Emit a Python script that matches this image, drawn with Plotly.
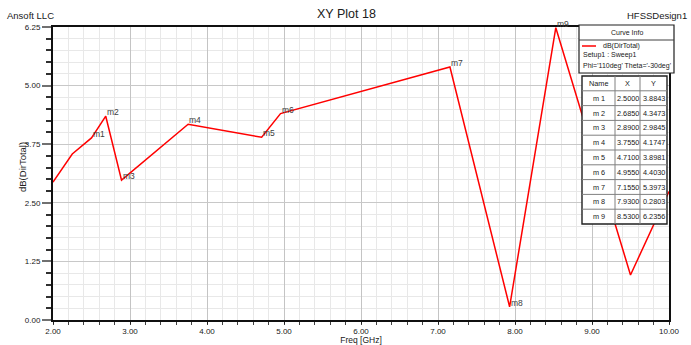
import plotly.graph_objects as go

# Marker table (name, frequency in GHz, gain in dB)
marker_names = ["m1", "m2", "m3", "m4", "m5", "m6", "m7", "m8", "m9"]
marker_freq = [2.5000, 2.6850, 2.8900, 3.7550, 4.7100, 4.9550, 7.1550, 7.9300, 8.5300]
marker_db = [3.8843, 4.3473, 2.9845, 4.1747, 3.8981, 4.4030, 5.3973, 0.2803, 6.2356]

# Remaining sweep points of dB(DirTotal)
sweep_freq = [2.00, 2.25, 9.50, 10.00]
sweep_db = [2.94, 3.54, 0.96, 2.74]

x_ticks = [2.0, 3.0, 4.0, 5.0, 6.0, 7.0, 8.0, 9.0, 10.0]
y_ticks = [0.00, 1.25, 2.50, 3.75, 5.00, 6.25]

pts = sorted(zip(sweep_freq + marker_freq, sweep_db + marker_db))
curve_x = [p[0] for p in pts]
curve_y = [p[1] for p in pts]

FONT = "Liberation Sans Narrow, Arial Narrow, Liberation Sans, Arial, sans-serif"
W, H = 691, 345
L, R, T, B = 53, 669, 27, 320


def px(x):
    return (x - L) / (R - L)


def py(y):
    return (B - y) / (B - T)


fig = go.Figure()
fig.add_trace(go.Scatter(
    x=curve_x, y=curve_y, mode="lines",
    line=dict(color="#ff0000", width=1.5),
    hoverinfo="skip", showlegend=False,
))

annotations = []
shapes = []

# Marker labels beside each marker point
for name, fx, fy in zip(marker_names, marker_freq, marker_db):
    annotations.append(dict(
        x=fx, y=fy, xref="x", yref="y", text=name, showarrow=False,
        xanchor="left", yanchor="bottom", xshift=-1, yshift=-3,
        font=dict(family=FONT, size=8.5, color="#404040"),
    ))

# Header texts
annotations += [
    dict(x=px(5), y=py(15), xref="paper", yref="paper", text="Ansoft LLC",
         showarrow=False, xanchor="left", yanchor="middle",
         font=dict(family=FONT, size=9.5, color="#202020")),
    dict(x=px(689), y=py(15), xref="paper", yref="paper", text="HFSSDesign1",
         showarrow=False, xanchor="right", yanchor="middle",
         font=dict(family=FONT, size=9.5, color="#202020")),
    dict(x=px(346), y=py(14), xref="paper", yref="paper", text="XY Plot 18",
         showarrow=False, xanchor="center", yanchor="middle",
         font=dict(family=FONT, size=12.5, color="#202020")),
]

# Curve Info box
box_l, box_r, box_t, box_b = 579, 674, 25, 73
shapes.append(dict(type="rect", xref="paper", yref="paper",
                   x0=px(box_l), x1=px(box_r), y0=py(box_b), y1=py(box_t),
                   fillcolor="white", line=dict(color="#202020", width=1.2),
                   layer="above"))
shapes.append(dict(type="line", xref="paper", yref="paper",
                   x0=px(box_l), x1=px(box_r), y0=py(40), y1=py(40),
                   line=dict(color="#404040", width=1), layer="above"))
shapes.append(dict(type="line", xref="paper", yref="paper",
                   x0=px(582), x1=px(596), y0=py(46), y1=py(46),
                   line=dict(color="#ff0000", width=1.5), layer="above"))
info_font = dict(family=FONT, size=7, color="#202020")
annotations += [
    dict(x=px((box_l + box_r) / 2), y=py(32.5), xref="paper", yref="paper",
         text="Curve Info", showarrow=False, xanchor="center", yanchor="middle",
         font=info_font),
    dict(x=px(601), y=py(46), xref="paper", yref="paper", text="dB(DirTotal)",
         showarrow=False, xanchor="left", yanchor="middle", font=info_font),
    dict(x=px(581), y=py(55), xref="paper", yref="paper", text="Setup1 : Sweep1",
         showarrow=False, xanchor="left", yanchor="middle", font=info_font),
    dict(x=px(581), y=py(66), xref="paper", yref="paper",
         text="Phi='110deg' Theta='-30deg'",
         showarrow=False, xanchor="left", yanchor="middle", font=info_font),
]

# Marker table
tab_l, tab_r, tab_t = 582, 667, 76
row_h = 14.8
cols = [582, 615, 640, 667]
n_rows = len(marker_names) + 1
tab_b = tab_t + row_h * n_rows
shapes.append(dict(type="rect", xref="paper", yref="paper",
                   x0=px(tab_l), x1=px(tab_r), y0=py(tab_b), y1=py(tab_t),
                   fillcolor="white", line=dict(color="#202020", width=1.4),
                   layer="above"))
for cx in cols[1:-1]:
    shapes.append(dict(type="line", xref="paper", yref="paper",
                       x0=px(cx), x1=px(cx), y0=py(tab_b), y1=py(tab_t),
                       line=dict(color="#808080", width=1), layer="above"))
for i in range(1, n_rows):
    ry = tab_t + row_h * i
    shapes.append(dict(type="line", xref="paper", yref="paper",
                       x0=px(tab_l), x1=px(tab_r), y0=py(ry), y1=py(ry),
                       line=dict(color="#808080", width=1), layer="above"))

rows = [["Name", "X", "Y"]] + [
    [n.replace("m", "m "), f"{fx:.4f}", f"{fy:.4f}"]
    for n, fx, fy in zip(marker_names, marker_freq, marker_db)
]
for i, row in enumerate(rows):
    cy = tab_t + row_h * (i + 0.5)
    for j, txt in enumerate(row):
        cx = (cols[j] + cols[j + 1]) / 2
        annotations.append(dict(
            x=px(cx), y=py(cy), xref="paper", yref="paper", text=txt,
            showarrow=False, xanchor="center", yanchor="middle",
            font=dict(family=FONT, size=7.3, color="#202020"),
        ))

# Vertical axis title
annotations.append(dict(
    x=px(22), y=py(167), xref="paper", yref="paper", text="dB(DirTotal)",
    showarrow=False, xanchor="center", yanchor="middle", textangle=-90,
    font=dict(family=FONT, size=9.5, color="#202020"),
))

fig.update_layout(
    width=W, height=H,
    margin=dict(l=L, r=W - R, t=T, b=H - B, pad=0, autoexpand=False),
    paper_bgcolor="white", plot_bgcolor="white",
    showlegend=False,
    font=dict(family=FONT, size=8, color="#202020"),
    annotations=annotations, shapes=shapes,
    xaxis=dict(
        range=[2, 10], tickvals=x_ticks, ticktext=[f"{v:.2f}" for v in x_ticks],
        ticks="outside", ticklen=2, tickcolor="#202020", tickwidth=1,
        showgrid=True, gridcolor="#c4c4c4", gridwidth=1,
        minor=dict(dtick=0.2, ticks="outside", ticklen=3, tickcolor="#404040",
                   showgrid=True, gridcolor="#e8e8e8", gridwidth=1),
        showline=True, linecolor="#101010", linewidth=2, mirror=True,
        zeroline=False, tickfont=dict(family=FONT, size=8, color="#202020"),
        title=dict(text="Freq [GHz]", standoff=3,
                   font=dict(family=FONT, size=8.5, color="#202020")),
        automargin=False, fixedrange=True,
    ),
    yaxis=dict(
        range=[0, 6.25], tickvals=y_ticks, ticktext=[f"{v:.2f}" for v in y_ticks],
        ticks="outside", ticklen=9, tickcolor="#707070", tickwidth=2,
        showgrid=True, gridcolor="#c8c8c8", gridwidth=1,
        minor=dict(dtick=0.25, ticks="outside", ticklen=5, tickcolor="#303030",
                   tickwidth=1.5, showgrid=True, gridcolor="#e8e8e8", gridwidth=1),
        showline=True, linecolor="#101010", linewidth=2, mirror=True,
        zeroline=False, tickfont=dict(family=FONT, size=8, color="#202020"),
        automargin=False, fixedrange=True,
    ),
)

fig.write_html("out.html", config={"displayModeBar": False})
